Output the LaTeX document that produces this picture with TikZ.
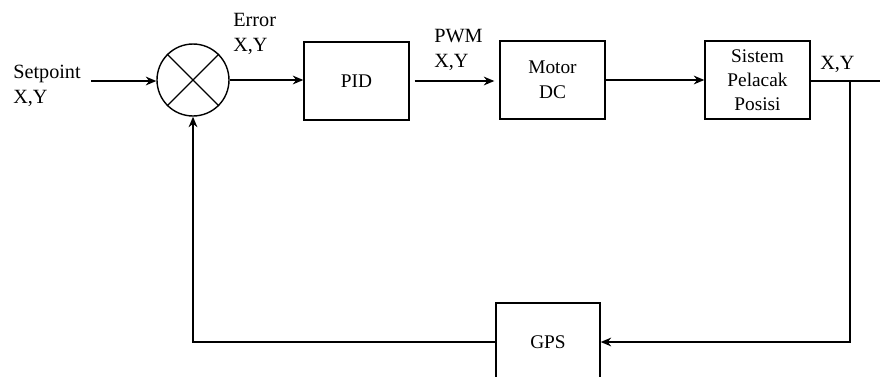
\documentclass[tikz,border=0pt]{standalone}
\usepackage{fontspec}
\setmainfont{Liberation Serif}
\usepackage{tikz}
\usetikzlibrary{shapes.geometric, arrows.meta, positioning, calc}
\tikzstyle{block} = [rectangle, draw, line width=0.8pt, minimum width=2.1cm, minimum height=1.56cm, align=center, font=\fontsize{11}{14}\selectfont]
\tikzstyle{sumnode} = [circle, draw, line width=0.8pt, minimum size=1.44cm, inner sep=0pt]
\tikzstyle{lbl} = [align=left, inner sep=0pt, font=\fontsize{11.5}{14.5}\selectfont]
\tikzstyle{arrow} = [line width=0.8pt,-{Stealth[length=6pt,width=5pt]}]
\tikzstyle{line} = [line width=0.8pt]

\begin{document}
\begin{tikzpicture}[x=0.02cm, y=-0.02cm]
    \useasboundingbox (0,0) rectangle (880,376);
    \begin{scope}
    \clip (0,0) rectangle (880,376);
    \node (sum) [sumnode] at (193,80) {};
    \draw[line] (sum.north west) -- (sum.south east);
    \draw[line] (sum.north east) -- (sum.south west);
    \node (pid) [block] at (356.5,81) {PID};
    \node (motor) [block] at (552.5,80) {Motor\\DC};
    \node (track) [block, font=\fontsize{11}{13.5}\selectfont] at (757.5,80) {Sistem\\Pelacak\\Posisi};
    \node (gps) [block, minimum width=2.08cm] at (548,342) {GPS};

    % labels
    \node (setp) [lbl, anchor=west] at (13,86) {Setpoint\\X,Y};
    \node (err) [lbl, anchor=west] at (233,34) {Error\\X,Y};
    \node (pwm) [lbl, anchor=west] at (434,50) {PWM\\X,Y};
    \node (outxy) [lbl, anchor=west] at (820,64) {X,Y};

    \coordinate (in) at (91,81);
    \coordinate (out) at (880,81);
    \coordinate (br) at (850,81);

    \draw[arrow] (in) -- (in -| sum.west);
    \draw[arrow] (sum.east) -- (sum.east -| pid.west);
    \draw[arrow, shorten <=0.1cm, shorten >=0.1cm] (pid.east) -- (pid.east -| motor.west);
    \draw[arrow] (motor.east) -- (motor.east -| track.west);
    \draw[line] (track.east |- out) -- (out);
    \draw[arrow] (br) |- (gps.east);
    \draw[arrow] (gps.west) -| (sum.south);
    \end{scope}
  \end{tikzpicture}
\end{document}
